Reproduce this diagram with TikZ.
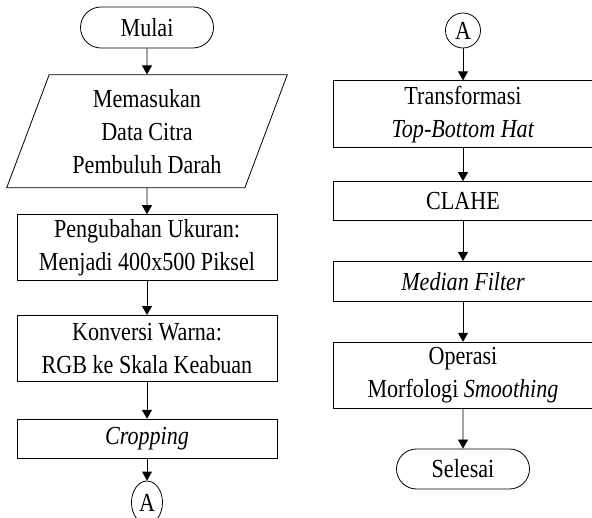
\documentclass[tikz,border=0pt]{standalone}
\usepackage{fontspec}
\setmainfont[FakeStretch=0.85]{Liberation Serif}
\usetikzlibrary{positioning,shapes.geometric,shapes.misc,arrows.meta}

\begin{document}
\begin{tikzpicture}[x=1pt,y=1pt,
			font=\fontsize{26}{33}\selectfont,
			termnode/.style={rounded rectangle, draw, line width=0.8pt, minimum width=133pt, minimum height=41pt, inner sep=0pt},
			ionode/.style={trapezium, trapezium left angle=69, trapezium right angle=111, trapezium stretches=true, draw, line width=0.8pt, minimum width=281pt, minimum height=113pt, align=center, inner sep=0pt},
			procnode/.style={rectangle, draw, line width=0.8pt, minimum width=260pt, align=center, inner sep=0pt},
			connnode/.style={ellipse, draw, line width=0.8pt, inner sep=0pt, minimum width=35pt, minimum height=35pt},
			arrowline/.style={-{Triangle[length=9pt,width=10pt]}, line width=0.8pt},
			]
			\useasboundingbox (0,0) rectangle (592,-518);
			%Nodes
			\node[termnode]    (mulai)    at (147,-27.5)               {Mulai};
			\node[ionode]      (input)    [below=26pt of mulai]        {Memasukan\\Data Citra\\Pembuluh Darah};
			\node[procnode, minimum height=66pt] (resize) [below=26pt of input] {Pengubahan Ukuran:\\Menjadi 400x500 Piksel};
			\node[procnode, minimum height=66pt] (gray)   [below=34pt of resize] {Konversi Warna:\\RGB ke Skala Keabuan};
			\node[procnode, minimum height=39pt] (crop)   [below=37pt of gray]   {\textit{Cropping}};
			\node[connnode, minimum width=31pt, minimum height=43pt] (conA) [below=22pt of crop] {A};
			
			\node[connnode]    (conB)     at (463,-30.5)               {A};
			\node[procnode, minimum height=67pt] (tophat) [below=32pt of conB]   {Transformasi\\\textit{Top-Bottom Hat}};
			\node[procnode, minimum height=39pt] (clahe)  [below=33pt of tophat] {CLAHE};
			\node[procnode, minimum height=40pt] (median) [below=40pt of clahe]  {\textit{Median Filter}};
			\node[procnode, minimum height=66pt] (morph)  [below=40pt of median] {Operasi\\Morfologi \textit{Smoothing}};
			\node[termnode, minimum height=40pt] (selesai) [below=40pt of morph] {Selesai};
			
			%Lines
			\draw[arrowline] (mulai) -- (input);
			\draw[arrowline] (input) -- (resize);
			\draw[arrowline] (resize) -- (gray);
			\draw[arrowline] (gray) -- (crop);
			\draw[arrowline] (crop) -- (conA);
			\draw[arrowline] (conB) -- (tophat);
			\draw[arrowline] (tophat) -- (clahe);
			\draw[arrowline] (clahe) -- (median);
			\draw[arrowline] (median) -- (morph);
			\draw[arrowline] (morph) -- (selesai);
		\end{tikzpicture}
\end{document}
